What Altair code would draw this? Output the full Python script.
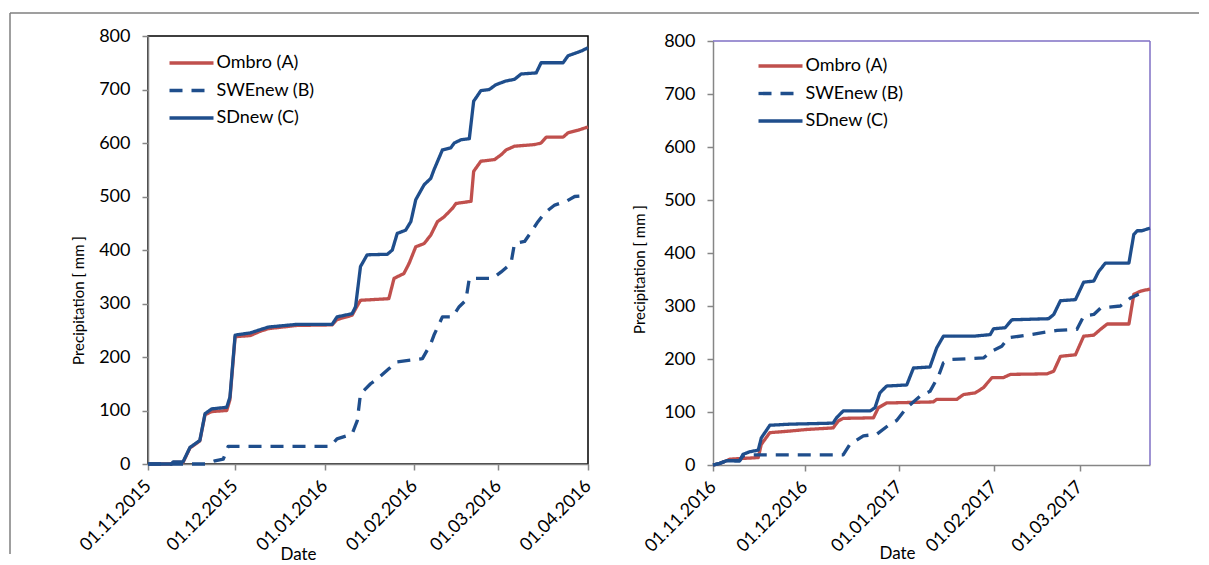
import altair as alt
import pandas as pd

SERIES = ["Ombro (A)", "SWEnew (B)", "SDnew (C)"]
COLORS = ["#C0504D", "#1F4E8C", "#1F4E8C"]
DASHES = [[1, 0], [13, 9], [1, 0]]

# ---- Winter 2015/16 (days after 01.11.2015) ----
L_OM_DAY = [0, 8.1, 8.7, 12.1, 14.5, 17.9, 19.7, 22.0, 27.2, 28.3, 30.1, 35.3, 38.7, 41.6, 51.4, 63.6, 65.3, 70.5,
            71.7, 73.4, 83.2, 85.0, 88.4, 90.2, 92.5, 95.4, 97.7, 100.0, 102.3, 105.2, 106.4, 111.6, 112.5, 115.0,
            119.7, 122.0, 123.7, 126.6, 133.5, 135.8, 137.6, 143.4, 145.1, 148.6, 152.0]
L_OM_VAL = [0, 0, 3, 3, 30, 43, 92, 98, 100, 120, 238, 240, 248, 253, 259, 260, 270, 278,
            290, 306, 309, 347, 356, 375, 406, 412, 428, 453, 462, 478, 487, 491, 547, 566,
            569, 578, 587, 594, 597, 600, 611, 611, 619, 624, 630]
L_SW_DAY = [0, 19.7, 23.1, 26.0, 27.7, 63.0, 65.3, 70.5, 72.3, 73.4, 76.9, 79.2, 83.2, 86.1, 94.8, 97.7, 98.8,
            101.7, 105.2, 107.5, 109.8, 111.0, 119.1, 122.0, 125.4, 126.6, 130.1, 132.4, 134.7, 137.0, 140.5,
            144.5, 147.4, 152.0]
L_SW_VAL = [0, 0, 6, 9, 33, 33, 47, 56, 81, 131, 150, 159, 178, 191, 197, 225, 241,
            275, 275, 294, 306, 347, 347, 359, 375, 412, 416, 434, 453, 469, 484,
            491, 500, 502]
L_SD_DAY = [0, 8.1, 8.7, 12.1, 14.5, 17.9, 19.7, 22.0, 27.2, 28.3, 30.1, 35.3, 38.7, 41.6, 51.4, 63.6, 65.3, 70.5,
            71.7, 73.4, 75.7, 82.7, 84.4, 86.1, 89.0, 90.8, 92.5, 95.4, 97.7, 98.8, 101.7, 104.6, 105.8, 108.1,
            111.0, 112.5, 115.0, 117.9, 120.2, 123.7, 126.6, 128.9, 134.1, 135.8, 143.4, 145.1, 149.7, 152.0]
L_SD_VAL = [0, 0, 4, 4, 31, 44, 94, 103, 106, 125, 241, 245, 251, 256, 261, 261, 275, 281,
            294, 369, 391, 392, 400, 431, 437, 453, 494, 522, 534, 550, 587, 591, 600, 606,
            608, 678, 698, 700, 709, 716, 719, 729, 731, 750, 750, 763, 772, 778]

# ---- Winter 2016/17 (days after 01.11.2016) ----
R_OM_DAY = [0, 2.2, 4.4, 5.5, 14.8, 15.8, 18.6, 25.1, 30.6, 39.3, 41.0, 42.6, 52.5, 54.1, 56.8, 72.1, 73.2, 79.8,
            82.0, 85.8, 88.5, 91.3, 95.1, 97.3, 109.3, 111.5, 113.7, 118.6, 121.3, 124.6, 126.8, 129.0, 136.1,
            137.7, 139.9, 143.0]
R_OM_VAL = [0, 3, 8, 11, 14, 39, 61, 64, 67, 70, 83, 88, 89, 108, 117, 119, 124, 124,
            133, 136, 146, 165, 165, 171, 172, 177, 205, 208, 243, 245, 256, 266, 266,
            322, 328, 332]
R_SW_DAY = [0, 2.2, 4.4, 8.7, 9.8, 12.0, 42.6, 44.8, 49.2, 53.6, 57.9, 60.1, 63.4, 67.8, 71.0, 73.8, 75.4, 77.6,
            88.5, 91.3, 94.5, 96.7, 102.7, 112.6, 119.1, 121.3, 124.6, 126.8, 133.3, 136.6, 139.3]
R_SW_VAL = [0, 3, 8, 8, 17, 19, 19, 39, 55, 58, 77, 84, 108, 130, 139, 168, 193, 199,
            202, 215, 224, 240, 245, 254, 256, 281, 284, 296, 300, 315, 322]
R_SD_DAY = [0, 2.2, 4.4, 8.7, 9.8, 12.0, 14.8, 15.8, 18.6, 25.1, 39.3, 40.4, 42.6, 51.4, 53.0, 54.6, 56.8, 63.4,
            65.6, 71.0, 73.2, 75.4, 85.2, 90.7, 91.8, 95.6, 97.8, 109.8, 111.5, 113.7, 118.6, 121.3, 124.6,
            126.2, 128.4, 136.1, 137.7, 138.8, 140.4, 143.0]
R_SD_VAL = [0, 3, 8, 8, 20, 25, 28, 51, 75, 77, 79, 89, 102, 102, 108, 136, 149, 151,
            183, 185, 221, 243, 243, 246, 257, 259, 274, 276, 284, 310, 312, 345, 347,
            365, 381, 381, 435, 442, 442, 447]

Y_TICKS = [0, 100, 200, 300, 400, 500, 600, 700, 800]
L_TICKS = [(2015, 11), (2015, 12), (2016, 1), (2016, 2), (2016, 3), (2016, 4)]
R_TICKS = [(2016, 11), (2016, 12), (2017, 1), (2017, 2), (2017, 3)]


def build(start, parts):
    rows = []
    t0 = pd.Timestamp(start)
    for name, days, vals in parts:
        for d, v in zip(days, vals):
            rows.append({"date": t0 + pd.Timedelta(days=d), "value": v, "series": name})
    return pd.DataFrame(rows)


left_df = build("2015-11-01", [(SERIES[0], L_OM_DAY, L_OM_VAL), (SERIES[1], L_SW_DAY, L_SW_VAL),
                               (SERIES[2], L_SD_DAY, L_SD_VAL)])
right_df = build("2016-11-01", [(SERIES[0], R_OM_DAY, R_OM_VAL), (SERIES[1], R_SW_DAY, R_SW_VAL),
                                (SERIES[2], R_SD_DAY, R_SD_VAL)])

one = pd.DataFrame({"k": [0]})
FRAME = "#7f7f7f"
PURPLE = "#7F6FC4"


def panel(df, dom, ticks, width, height, yrange, lx, ly, tx, ty, ytx, yty, stroke, rules):
    leg = alt.Legend(orient="none", legendX=lx, legendY=ly, title=None, symbolType="M-4,0H4",
                     symbolSize=121, symbolStrokeWidth=3.3, labelFontSize=18, labelFont="Lato",
                     labelColor="#000000", labelOffset=16, rowPadding=9.5, padding=0)
    lines = alt.Chart(df).mark_line(strokeWidth=3.3, strokeJoin="round").encode(
        x=alt.X("date:T", title="Date",
                scale=alt.Scale(domain=[alt.DateTime(year=dom[0][0], month=dom[0][1], date=dom[0][2]),
                                        alt.DateTime(year=dom[1][0], month=dom[1][1], date=dom[1][2])]),
                axis=alt.Axis(values=[alt.DateTime(year=y, month=m, date=1) for y, m in ticks],
                              format="%d.%m.%Y", labelAngle=315, labelAlign="right",
                              labelBaseline="middle", labelPadding=13, titleX=tx, titleY=ty,
                              titleBaseline="middle")),
        y=alt.Y("value:Q", title="Precipitation [ mm ]",
                scale=alt.Scale(domain=[0, 800], range=yrange),
                axis=alt.Axis(values=Y_TICKS, labelPadding=12, titleX=ytx, titleY=yty,
                              titleBaseline="middle", titleFontSize=15)),
        color=alt.Color("series:N", scale=alt.Scale(domain=SERIES, range=COLORS), legend=leg),
        strokeDash=alt.StrokeDash("series:N", scale=alt.Scale(domain=SERIES, range=DASHES), legend=leg),
    )
    layers = []
    for color, p in rules:
        layers.append(alt.Chart(one).mark_rule(color=color, strokeWidth=1.5).encode(**p))
    layers.append(lines)
    return alt.layer(*layers).properties(
        width=width, height=height, view=stroke)


left = panel(left_df, [(2015, 11, 1), (2016, 4, 1)], L_TICKS, 440, 428, [428, 0], 34.5, 18, 150, 90, -70, 264,
             alt.ViewBackground(stroke="#000000", strokeWidth=1.5),
             [(FRAME, dict(x=alt.value(-138), x2=alt.value(472), y=alt.value(-23))),
              (FRAME, dict(x=alt.value(-138), y=alt.value(-23), y2=alt.value(518)))])
right = panel(right_df, [(2016, 11, 1), (2017, 3, 24)], R_TICKS, 437, 429, [429, 5], 58.5, 21, 184, 88, -74, 233,
              alt.ViewBackground(strokeWidth=0),
              [(FRAME, dict(x=alt.value(-93), x2=alt.value(486), y=alt.value(-23))),
               (PURPLE, dict(x=alt.value(0), x2=alt.value(437), y=alt.value(5))),
               (PURPLE, dict(x=alt.value(437), y=alt.value(5), y2=alt.value(429)))])

chart = alt.hconcat(left, right, spacing=-3).resolve_scale(
    color="independent", strokeDash="independent"
).resolve_legend(
    color="independent", strokeDash="independent"
).properties(
    padding={"left": 0, "top": 3, "right": 0, "bottom": 0}
).configure(font="Lato").configure_axis(
    grid=False, domainColor="#868686", tickColor="#868686", domainWidth=1.5, tickWidth=1.5, tickSize=6,
    labelFont="Lato", labelFontSize=18, labelColor="#000000", titleFont="Lato", titleFontSize=17,
    titleFontWeight="normal", titleColor="#000000"
)

chart.save("out.html", embed_options={"renderer": "svg", "actions": False})
